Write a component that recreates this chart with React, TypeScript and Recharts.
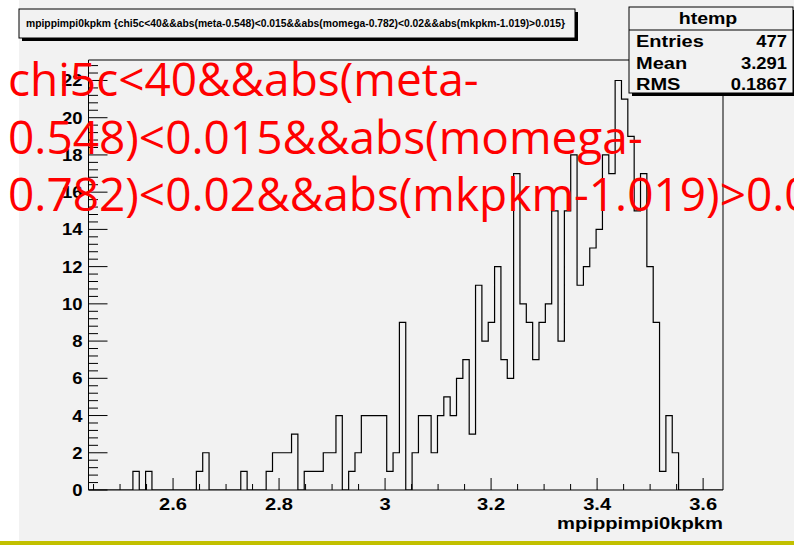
import { ComposedChart, Line, XAxis, YAxis, ReferenceArea } from "recharts";

// histogram htemp: 100 bins, counts
const binCounts = [
  0, 0, 0, 0, 0, 0, 0, 1, 0, 1,
  0, 0, 0, 0, 0, 0, 0, 1, 2, 0,
  0, 0, 0, 0, 1, 0, 0, 0, 1, 2,
  2, 2, 3, 0, 1, 1, 1, 2, 2, 4,
  0, 1, 2, 4, 4, 4, 4, 1, 2, 9,
  0, 2, 4, 4, 2, 4, 5, 4, 6, 7,
  3, 11, 8, 9, 12, 7, 6, 17, 10, 9,
  7, 9, 10, 15, 8, 15, 18, 11, 12, 13,
  14, 18, 17, 22, 21, 19, 15, 17, 12, 9,
  1, 4, 2, 0, 0, 0, 0, 0, 0, 0,
];
const xMin = 2.4405;
const xMax = 3.6375;
const yMax = 23.1;

const xMajorTicks = [2.6, 2.8, 3, 3.2, 3.4, 3.6];
const yMajorTicks = [0, 2, 4, 6, 8, 10, 12, 14, 16, 18, 20, 22];

const histTitle =
  "mpippimpi0kpkm {chi5c<40&&abs(meta-0.548)<0.015&&abs(momega-0.782)<0.02&&abs(mkpkm-1.019)>0.015}";
const xTitle = "mpippimpi0kpkm";
const statsName = "htemp";
const statsLabels = ["Entries", "Mean", "RMS"];
const statsValues = ["477", "3.291", "0.1867"];
const cutLines = [
  "chi5c<40&&abs(meta-",
  "0.548)<0.015&&abs(momega-",
  "0.782)<0.02&&abs(mkpkm-1.019)>0.015",
];

const binWidth = (xMax - xMin) / binCounts.length;
const histData = [
  ...binCounts.map((n, i) => ({ x: xMin + i * binWidth, n })),
  { x: xMax, n: binCounts[binCounts.length - 1] },
];

const xTicks: number[] = [];
for (let k = 0; k <= 23; k++) xTicks.push(Math.round((2.45 + k * 0.05) * 1000) / 1000);
const yTicks: number[] = [];
for (let k = 0; k <= 57; k++) yTicks.push(Math.round(k * 0.4 * 1000) / 1000);

const FONT = "'Liberation Sans', Arial, Helvetica, sans-serif";

function Stretch({ x, y, sx = 1.22, anchor = "start", size = 16.5, children }: any) {
  return (
    <text
      transform={`translate(${x},${y}) scale(${sx},1)`}
      textAnchor={anchor}
      fontSize={size}
      fontWeight="bold"
      fontFamily={FONT}
      fill="#000"
    >
      {children}
    </text>
  );
}

function XTick({ x, y, payload }: any) {
  const v = payload.value;
  const major = xMajorTicks.some((t) => Math.abs(t - v) < 1e-6);
  return (
    <g>
      <line x1={x} y1={y} x2={x} y2={y - (major ? 12 : 6)} stroke="#000" strokeWidth={1} />
      {major && (
        <Stretch x={x} y={y + 20} anchor="middle">
          {String(parseFloat(v.toFixed(2)))}
        </Stretch>
      )}
    </g>
  );
}

function YTick({ x, y, payload }: any) {
  const v = payload.value;
  const major = yMajorTicks.some((t) => Math.abs(t - v) < 1e-6);
  return (
    <g>
      <line x1={x} y1={y} x2={x + (major ? 19 : 9.5)} y2={y} stroke="#000" strokeWidth={1} />
      {major && (
        <Stretch x={x - 6} y={y + 6} anchor="end" sx={1.12}>
          {String(v)}
        </Stretch>
      )}
    </g>
  );
}

export default function App() {
  return (
    <div
      style={{
        position: "fixed",
        left: 0,
        top: 0,
        width: 794,
        height: 548,
        overflow: "hidden",
        background: "#fff",
      }}
    >
      <svg width={794} height={548} style={{ position: "absolute", left: 0, top: 0 }}>
        <rect x={19} y={0} width={775} height={541} fill="#f2f2f2" />
        <rect x={0} y={541} width={794} height={4} fill="#c2c000" />
      </svg>
      <div style={{ position: "absolute", left: 0, top: 0 }}>
        <ComposedChart
          width={794}
          height={548}
          data={histData}
          margin={{ top: 60, right: 71, bottom: 0, left: 0 }}
        >
          <XAxis
            type="number"
            dataKey="x"
            domain={[xMin, xMax]}
            allowDataOverflow
            ticks={xTicks}
            interval={0}
            height={58}
            axisLine={false}
            tickLine={false}
            tickSize={0}
            tickMargin={0}
            tick={<XTick />}
          />
          <YAxis
            type="number"
            domain={[0, yMax]}
            allowDataOverflow
            ticks={yTicks}
            interval={0}
            width={88.5}
            axisLine={false}
            tickLine={false}
            tickSize={0}
            tickMargin={0}
            tick={<YTick />}
          />
          <ReferenceArea x1={xMin} x2={xMax} y1={0} y2={yMax} fill="none" fillOpacity={0} stroke="#000" strokeWidth={1} />
          <Line
            type="stepAfter"
            dataKey="n"
            stroke="#000"
            strokeWidth={1.2}
            dot={false}
            activeDot={false}
            isAnimationActive={false}
          />
        </ComposedChart>
      </div>
      <svg width={794} height={548} style={{ position: "absolute", left: 0, top: 0 }}>
        {/* title pave */}
        <rect x={22} y={12} width={556} height={29} fill="#000" />
        <rect x={19} y={9} width={556} height={29} fill="#f2f2f2" stroke="#000" strokeWidth={1} />
        <text
          x={26}
          y={27}
          fontSize={10.5}
          fontWeight="bold"
          fontFamily={FONT}
          textLength={539}
          lengthAdjust="spacingAndGlyphs"
        >
          {histTitle}
        </text>
        {/* stats box */}
        <rect x={632} y={10} width={170} height={86} fill="#000" />
        <rect x={629} y={7} width={164} height={86} fill="#f2f2f2" stroke="#000" strokeWidth={1} />
        <line x1={629} y1={30} x2={793} y2={30} stroke="#000" strokeWidth={1} />
        <Stretch x={708} y={24} anchor="middle" size={17} sx={1.15}>
          {statsName}
        </Stretch>
        {statsLabels.map((lab, i) => (
          <g key={lab}>
            <Stretch x={636} y={47 + i * 21.5} size={16} sx={1.25}>
              {lab}
            </Stretch>
            <Stretch x={787} y={47 + i * 21.5} anchor="end" size={16} sx={1.15}>
              {statsValues[i]}
            </Stretch>
          </g>
        ))}
        {/* x axis title */}
        <text
          x={723}
          y={529}
          textAnchor="end"
          fontSize={16}
          fontWeight="bold"
          fontFamily={FONT}
          textLength={166}
          lengthAdjust="spacingAndGlyphs"
        >
          {xTitle}
        </text>
        {/* cut string overlay */}
        {cutLines.map((line, i) => (
          <text
            key={i}
            x={8}
            y={96 + i * 57.5}
            fontSize={46}
            fill="#ff0000"
            fontFamily="'Open Sans', 'Noto Sans', sans-serif"
          >
            {line}
          </text>
        ))}
      </svg>
    </div>
  );
}
